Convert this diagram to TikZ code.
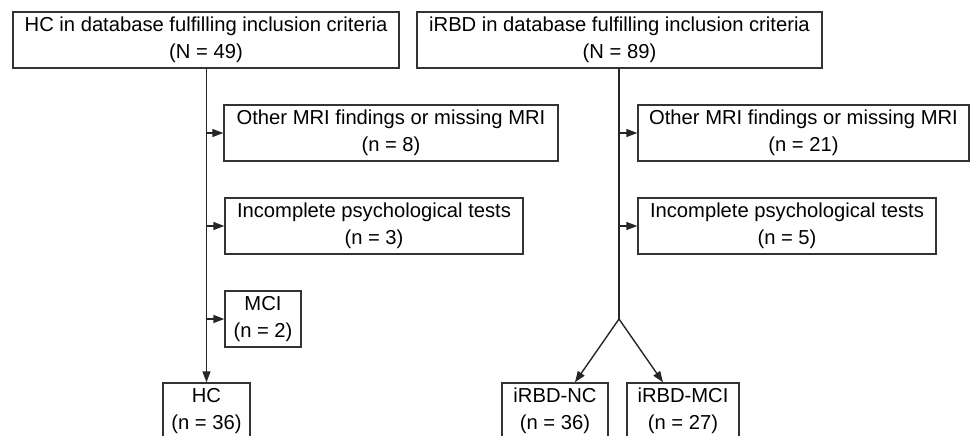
\documentclass[tikz,border=0pt]{standalone}
\usepackage{fontspec}
\setmainfont{Liberation Sans}
\usetikzlibrary{
	positioning				% Allows relative placement
	, arrows.meta			% Allows Triangle tips
	, calc
}

\begin{document}
\begin{tikzpicture}[
		x=1pt, y=-1pt
		, box/.style={draw=black!80, line width=1.4pt, align=center, inner sep=0pt,
			minimum height=56pt, text=black, font=\fontsize{20.2}{27}\selectfont}
		, baseline/.style={draw=black!85, line width=1.4pt}
		, flow/.style={baseline, -{Triangle[length=11pt, width=8pt]}}]

		%%% Frame
		\useasboundingbox (0, 0) rectangle (970, 436);
		\clip (0, 0) rectangle (970, 436);

		%%% HC branch
		\node[box, minimum width=386pt] (hcall) at (206, 40) {HC in database fulfilling inclusion criteria\\(N = 49)};
		\node[box, minimum width=334pt] (hcmri) at (391, 133) {Other MRI findings or missing MRI\\(n = 8)};
		\node[box, minimum width=298pt] (hcpsy) at (374, 226) {Incomplete psychological tests\\(n = 3)};
		\node[box, minimum width=76pt] (hcmci) at (263, 319) {MCI\\(n = 2)};
		\node[box, minimum width=87pt] (hc) at (206.5, 411) {HC\\(n = 36)};

		%% Spine and exclusions
		\draw[flow] (hcall.south -| hc.north) -- (hc.north);
		\draw[flow] (hcmri.west -| hc.north) -- (hcmri.west);
		\draw[flow] (hcpsy.west -| hc.north) -- (hcpsy.west);
		\draw[flow] (hcmci.west -| hc.north) -- (hcmci.west);

		%%% iRBD branch
		\node[box, minimum width=405pt] (rbdall) at (619.5, 40) {iRBD in database fulfilling inclusion criteria\\(N = 89)};
		\node[box, minimum width=331pt] (rbdmri) at (803.5, 133) {Other MRI findings or missing MRI\\(n = 21)};
		\node[box, minimum width=298pt] (rbdpsy) at (787, 226) {Incomplete psychological tests\\(n = 5)};
		\node[box, minimum width=106pt] (rbdnc) at (555, 411) {iRBD-NC\\(n = 36)};
		\node[box, minimum width=112pt] (rbdmci) at (683, 411) {iRBD-MCI\\(n = 27)};

		%% Split point
		\coordinate (split) at (619, 319);

		%% Spine and exclusions
		\draw[baseline] (rbdall.south -| split) -- (split);
		\draw[flow] (rbdmri.west -| split) -- (rbdmri.west);
		\draw[flow] (rbdpsy.west -| split) -- (rbdpsy.west);

		%% Subgroups
		\draw[flow] (split) -- ([xshift=20pt]rbdnc.north);
		\draw[flow] (split) -- ([xshift=-20pt]rbdmci.north);
	\end{tikzpicture}
\end{document}
